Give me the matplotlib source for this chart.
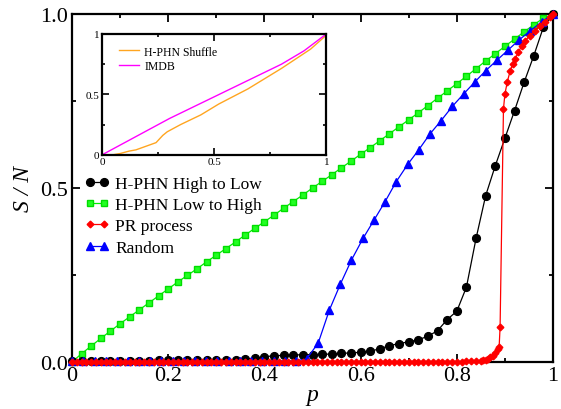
import matplotlib
matplotlib.use("Agg")
import matplotlib.pyplot as plt
from matplotlib.ticker import MultipleLocator, FixedLocator

plt.rcParams['font.family'] = ['Liberation Serif', 'DejaVu Serif']
plt.rcParams['mathtext.fontset'] = 'stix'

# ---------------- data ----------------
p_grid = [0.00, 0.02, 0.04, 0.06, 0.08, 0.10, 0.12, 0.14, 0.16, 0.18,
          0.20, 0.22, 0.24, 0.26, 0.28, 0.30, 0.32, 0.34, 0.36, 0.38,
          0.40, 0.42, 0.44, 0.46, 0.48, 0.50, 0.52, 0.54, 0.56, 0.58,
          0.60, 0.62, 0.64, 0.66, 0.68, 0.70, 0.72, 0.74, 0.76, 0.78,
          0.80, 0.82, 0.84, 0.86, 0.88, 0.90, 0.92, 0.94, 0.96, 0.98, 1.00]

high_to_low = [0.002, 0.002, 0.003, 0.003, 0.003, 0.004, 0.004, 0.004, 0.004, 0.005,
               0.005, 0.005, 0.005, 0.006, 0.006, 0.006, 0.006, 0.007, 0.008, 0.011,
               0.015, 0.018, 0.019, 0.020, 0.021, 0.021, 0.022, 0.023, 0.025, 0.026,
               0.028, 0.031, 0.038, 0.047, 0.053, 0.058, 0.064, 0.074, 0.090, 0.122,
               0.146, 0.215, 0.355, 0.478, 0.564, 0.643, 0.722, 0.804, 0.880, 0.962, 1.000]

low_to_high = [0.000, 0.024, 0.046, 0.068, 0.089, 0.110, 0.130, 0.150, 0.170, 0.190,
               0.210, 0.230, 0.249, 0.268, 0.288, 0.307, 0.326, 0.345, 0.365, 0.384,
               0.403, 0.422, 0.442, 0.461, 0.480, 0.500, 0.519, 0.538, 0.558, 0.577,
               0.597, 0.616, 0.636, 0.656, 0.676, 0.696, 0.716, 0.737, 0.758, 0.779,
               0.800, 0.821, 0.843, 0.865, 0.886, 0.907, 0.928, 0.949, 0.969, 0.988, 1.000]

p_random = [0.000, 0.023, 0.047, 0.070, 0.093, 0.116, 0.140, 0.163, 0.186, 0.209,
            0.233, 0.256, 0.279, 0.302, 0.326, 0.349, 0.372, 0.395, 0.419, 0.442,
            0.465, 0.488, 0.512, 0.535, 0.558, 0.581, 0.605, 0.628, 0.651, 0.674,
            0.698, 0.721, 0.744, 0.767, 0.791, 0.814, 0.837, 0.860, 0.884, 0.907,
            0.930, 0.953, 0.977, 1.000]
random_s = [0.003, 0.003, 0.003, 0.003, 0.003, 0.003, 0.003, 0.003, 0.003, 0.003,
            0.003, 0.003, 0.003, 0.003, 0.003, 0.003, 0.003, 0.003, 0.003, 0.003,
            0.003, 0.009, 0.055, 0.149, 0.224, 0.293, 0.355, 0.408, 0.461, 0.518,
            0.568, 0.610, 0.655, 0.693, 0.735, 0.770, 0.804, 0.837, 0.868, 0.897,
            0.926, 0.952, 0.978, 1.000]

p_pr = [0.00, 0.01, 0.02, 0.03, 0.04, 0.05, 0.06, 0.07, 0.08, 0.09,
        0.10, 0.11, 0.12, 0.13, 0.14, 0.15, 0.16, 0.17, 0.18, 0.19,
        0.20, 0.21, 0.22, 0.23, 0.24, 0.25, 0.26, 0.27, 0.28, 0.29,
        0.30, 0.31, 0.32, 0.33, 0.34, 0.35, 0.36, 0.37, 0.38, 0.39,
        0.40, 0.41, 0.42, 0.43, 0.44, 0.45, 0.46, 0.47, 0.48, 0.49,
        0.50, 0.51, 0.52, 0.53, 0.54, 0.55, 0.56, 0.57, 0.58, 0.59,
        0.60, 0.61, 0.62, 0.63, 0.64, 0.65, 0.66, 0.67, 0.68, 0.69,
        0.70, 0.71, 0.72, 0.73, 0.74, 0.75, 0.76, 0.77, 0.78, 0.79,
        0.80, 0.81, 0.82, 0.83, 0.84, 0.85,
        0.855, 0.860, 0.865, 0.870, 0.875, 0.880, 0.885, 0.888, 0.890,
        0.897, 0.900, 0.905, 0.911, 0.916, 0.921, 0.928, 0.935, 0.942,
        0.952, 0.963, 0.973, 0.983, 0.994, 1.000]
pr_s = [0.000, 0.000, 0.000, 0.000, 0.000, 0.000, 0.000, 0.000, 0.000, 0.000,
        0.000, 0.000, 0.000, 0.000, 0.000, 0.000, 0.000, 0.000, 0.000, 0.000,
        0.000, 0.000, 0.000, 0.000, 0.000, 0.000, 0.000, 0.000, 0.000, 0.000,
        0.000, 0.000, 0.000, 0.000, 0.000, 0.000, 0.000, 0.000, 0.000, 0.000,
        0.000, 0.000, 0.000, 0.000, 0.000, 0.000, 0.000, 0.000, 0.000, 0.000,
        0.000, 0.000, 0.000, 0.000, 0.000, 0.000, 0.000, 0.000, 0.000, 0.000,
        0.000, 0.000, 0.000, 0.000, 0.000, 0.000, 0.000, 0.000, 0.000, 0.000,
        0.000, 0.000, 0.000, 0.000, 0.000, 0.000, 0.001, 0.001, 0.001, 0.001,
        0.001, 0.001, 0.002, 0.002, 0.003, 0.004,
        0.005, 0.007, 0.009, 0.013, 0.018, 0.026, 0.036, 0.043, 0.100,
        0.727, 0.770, 0.805, 0.837, 0.856, 0.871, 0.890, 0.909, 0.923,
        0.938, 0.952, 0.966, 0.978, 0.990, 1.000]

# inset data
imdb_x = [0.0, 0.1, 0.2, 0.3, 0.4, 0.5, 0.6, 0.7, 0.8, 0.9, 1.0]
imdb_y = [0.0, 0.10, 0.20, 0.30, 0.39, 0.48, 0.57, 0.66, 0.75, 0.86, 1.0]
shuf_x = [0.0, 0.05, 0.08, 0.12, 0.15, 0.18, 0.21, 0.24, 0.27, 0.29,
          0.35, 0.44, 0.52, 0.65, 0.80, 0.93, 1.0]
shuf_y = [0.0, 0.0, 0.01, 0.03, 0.04, 0.06, 0.08, 0.10, 0.16, 0.19,
          0.25, 0.33, 0.42, 0.545, 0.715, 0.875, 0.99]

# ---------------- figure ----------------
W, H = 561, 410
fig = plt.figure(figsize=(W / 100, H / 100), dpi=100)
ax = fig.add_axes([72 / W, 47 / H, 481 / W, 348 / H])

lw = 0.9
ax.plot(p_grid, high_to_low, '-o', color='black', lw=lw, ms=5.6, clip_on=False,
        label='H-PHN High to Low', zorder=4)
ax.plot(p_grid, low_to_high, '-s', color='#00ee00', mfc='#22ff22', mec='#00dd00', lw=lw,
        ms=4.8, clip_on=False, label='H-PHN Low to High', zorder=3)
ax.plot(p_pr, pr_s, '-D', color='#ff0000', lw=lw, ms=3.4, clip_on=False,
        label='PR process', zorder=5)
ax.plot(p_random, random_s, '-^', color='#0000ff', lw=lw, ms=5.6, clip_on=False,
        label='Random', zorder=4)

ax.set_xlim(0, 1)
ax.set_ylim(0, 1)
ax.xaxis.set_major_locator(FixedLocator([0, 0.2, 0.4, 0.6, 0.8, 1.0]))
ax.xaxis.set_minor_locator(MultipleLocator(0.1))
ax.yaxis.set_major_locator(FixedLocator([0, 0.5, 1.0]))
ax.yaxis.set_minor_locator(MultipleLocator(0.25))
ax.set_xticklabels(['0', '0.2', '0.4', '0.6', '0.8', '1'])
ax.set_yticklabels(['0.0', '0.5', '1.0'])
ax.tick_params(which='both', direction='in', top=True, right=True, width=1.3,
               labelsize=16, pad=3)
ax.tick_params(which='major', length=6)
ax.tick_params(which='minor', length=3)
for s in ax.spines.values():
    s.set_linewidth(1.6)
ax.set_xlabel('p', fontsize=17, style='italic', labelpad=-1)
ax.set_ylabel('S / N', fontsize=17, style='italic', labelpad=4)

leg = ax.legend(loc='upper left', bbox_to_anchor=(85 / W, 1 - 176.5 / H),
                bbox_transform=fig.transFigure, frameon=False, fontsize=12.5,
                borderpad=0, borderaxespad=0, handlelength=1.4, handletextpad=0.33,
                labelspacing=0.3, numpoints=2)

# ---------------- inset ----------------
ins = fig.add_axes([102.3 / W, 1 - 155.7 / H, 224 / W, 120.7 / H])
ins.plot(shuf_x, shuf_y, color='#ffa520', lw=1.0, label='H-PHN Shuffle')
ins.plot(imdb_x, imdb_y, color='#ff00ff', lw=1.0, label='IMDB')
ins.set_xlim(0, 1)
ins.set_ylim(0, 1)
ins.xaxis.set_major_locator(FixedLocator([0, 0.5, 1.0]))
ins.xaxis.set_minor_locator(MultipleLocator(0.25))
ins.yaxis.set_major_locator(FixedLocator([0, 0.5, 1.0]))
ins.yaxis.set_minor_locator(MultipleLocator(0.25))
ins.set_xticklabels(['0', '0.5', '1'])
ins.set_yticklabels(['0', '0.5', '1'])
ins.tick_params(which='both', direction='in', top=True, right=True, width=1.2,
                labelsize=8, pad=2)
ins.tick_params(which='major', length=5)
ins.tick_params(which='minor', length=2.5)
for s in ins.spines.values():
    s.set_linewidth(1.6)
ins.legend(loc='upper left', bbox_to_anchor=(119 / W, 1 - 46.5 / H),
           bbox_transform=fig.transFigure, frameon=False, fontsize=8.5,
           borderpad=0, borderaxespad=0, handlelength=1.7, handletextpad=0.45,
           labelspacing=0.2)

fig.savefig('out.png', dpi=100)
